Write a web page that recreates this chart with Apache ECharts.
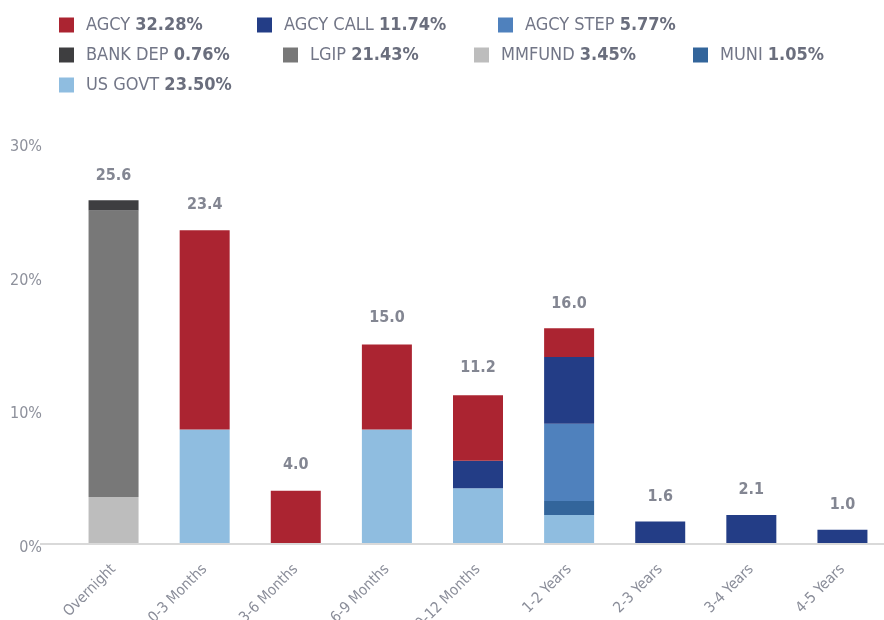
<!DOCTYPE html>
<html lang="en">
<head>
    <meta charset="UTF-8">
    <title>Maturity Distribution</title>
    <style>
        html, body { margin: 0; padding: 0; background: #fff; }
    </style>
</head>
<body>
<div id="main" style="width: 884px;height:620px;"></div>
<script src="https://cdn.jsdelivr.net/npm/echarts@6/dist/echarts.min.js"></script>
<script>
    // data
    var categories = ['Overnight', '0-3 Months', '3-6 Months', '6-9 Months', '9-12 Months', '1-2 Years', '2-3 Years', '3-4 Years', '4-5 Years'];
    var usGovt   = [0, 8.5, 0, 8.5, 4.1, 2.1, 0, 0, 0];
    var mmfund   = [3.45, 0, 0, 0, 0, 0, 0, 0, 0];
    var lgip     = [21.43, 0, 0, 0, 0, 0, 0, 0, 0];
    var bankDep  = [0.76, 0, 0, 0, 0, 0, 0, 0, 0];
    var muni     = [0, 0, 0, 0, 0, 1.05, 0, 0, 0];
    var agcyStep = [0, 0, 0, 0, 0, 5.77, 0, 0, 0];
    var agcyCall = [0, 0, 0, 0, 2.05, 5.0, 1.6, 2.1, 1.0];
    var agcy     = [0, 14.9, 3.9, 6.35, 4.9, 2.15, 0, 0, 0];
    var totals   = [25.6, 23.4, 4.0, 15.0, 11.2, 16.0, 1.6, 2.1, 1.0];
    var yTicks   = [0, 10, 20, 30];

    var legendNames = ['AGCY', 'AGCY CALL', 'AGCY STEP', 'BANK DEP', 'LGIP', 'MMFUND', 'MUNI', 'US GOVT'];
    var legendPct   = ['32.28%', '11.74%', '5.77%', '0.76%', '21.43%', '3.45%', '1.05%', '23.50%'];

    var colors = {
        'AGCY': '#ab2431',
        'AGCY CALL': '#233d86',
        'AGCY STEP': '#4f81bd',
        'BANK DEP': '#3e3e40',
        'LGIP': '#787878',
        'MMFUND': '#bdbdbd',
        'MUNI': '#33659b',
        'US GOVT': '#8fbde0'
    };
    // legend item positions (left of icon, top of row)
    var legendPos = [[59, 16], [257, 16], [498, 16], [59, 46], [283, 46], [474, 46], [693, 46], [59, 76]];

    var font = "'DejaVu Sans Condensed', 'Liberation Sans Narrow', sans-serif";
    var myChart = echarts.init(document.getElementById('main'));

    var legends = [];
    for (var i = 0; i < legendNames.length; i++) {
        (function (idx) {
            legends.push({
                left: legendPos[idx][0],
                top: legendPos[idx][1],
                orient: 'horizontal',
                padding: 0,
                selectedMode: false,
                icon: 'rect',
                itemWidth: 15,
                itemHeight: 15,
                data: [legendNames[idx]],
                formatter: function (name) {
                    return '{n|' + name + ' }{b|' + legendPct[idx] + '}';
                },
                textStyle: {
                    padding: [0, 0, 0, 7],
                    rich: {
                        n: { fontFamily: font, fontSize: 18, color: '#727687' },
                        b: { fontFamily: font, fontSize: 18, fontWeight: 'bold', color: '#6a6e7d' }
                    }
                }
            });
        })(i);
    }

    function barSeries(name, data) {
        return {
            name: name,
            type: 'bar',
            stack: 'total',
            barWidth: 50,
            itemStyle: { color: colors[name] },
            data: data
        };
    }

    var option = {
        backgroundColor: '#fff',
        animation: false,
        legend: legends,
        grid: {
            left: 68,
            top: 142,
            width: 820,
            bottom: 77,
            containLabel: false,
            outerBoundsMode: 'none'
        },
        xAxis: {
            type: 'category',
            data: categories,
            axisTick: { show: false },
            axisLine: { show: false },
            axisLabel: {
                rotate: 45,
                margin: 24,
                fontFamily: font,
                fontSize: 15,
                color: '#8a8d99'
            }
        },
        yAxis: {
            type: 'value',
            min: yTicks[0],
            max: yTicks[yTicks.length - 1],
            interval: 10,
            splitLine: { show: false },
            axisLine: { show: false },
            axisTick: { show: false },
            axisLabel: {
                margin: 26,
                fontFamily: font,
                fontSize: 16,
                color: '#8d909b',
                verticalAlign: 'top',
                lineHeight: 10,
                formatter: '{value}%'
            }
        },
        series: [
            barSeries('US GOVT', usGovt),
            barSeries('MMFUND', mmfund),
            barSeries('LGIP', lgip),
            barSeries('BANK DEP', bankDep),
            barSeries('MUNI', muni),
            barSeries('AGCY STEP', agcyStep),
            barSeries('AGCY CALL', agcyCall),
            barSeries('AGCY', agcy),
            {
                name: 'Total',
                type: 'scatter',
                symbolSize: 0,
                silent: true,
                label: {
                    show: true,
                    position: 'top',
                    distance: 17,
                    fontFamily: font,
                    fontSize: 16,
                    fontWeight: 'bold',
                    color: '#646877',
                    formatter: function (p) { return p.value.toFixed(1); }
                },
                data: totals
            }
        ]
    };

    myChart.setOption(option);

    // baseline running from under the y labels to the right edge
    var baseY = myChart.convertToPixel({ yAxisIndex: 0 }, 0);
    myChart.setOption({
        graphic: [{
            type: 'line',
            z: 0,
            shape: { x1: 40, y1: baseY + 1, x2: 884, y2: baseY + 1 },
            style: { stroke: '#d9d9d9', lineWidth: 2 }
        }]
    });
</script>
</body>
</html>
